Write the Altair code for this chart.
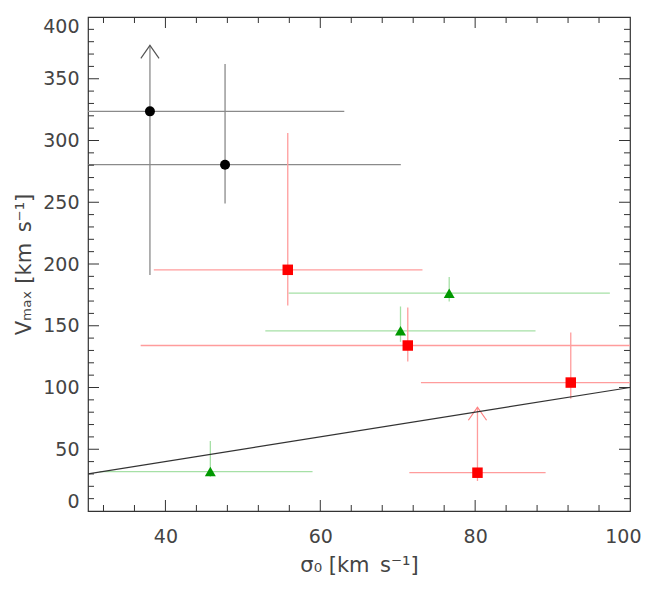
import altair as alt
import pandas as pd

# ---- data ----
groups = ["black", "black", "red", "red", "red", "red", "green", "green", "green"]
sigma = [38.0, 47.7, 55.8, 71.3, 92.35, 80.3, 76.65, 70.36, 45.8]
vmax = [323.6, 280.4, 195.3, 134.0, 104.0, 31.0, 176.4, 145.9, 31.9]
sigma_lo = [20.0, 20.0, 38.5, 36.8, 73.0, 71.5, 55.9, 52.9, 31.5]
sigma_hi = [63.1, 70.4, 73.2, 110.0, 110.0, 89.1, 97.4, 87.8, 59.0]
vmax_lo = [191.0, 249.0, 166.4, 121.0, 90.8, 24.3, 169.6, 137.0, 27.8]
vmax_hi = [377.0, 362.0, 306.0, 164.8, 144.5, 84.0, 189.4, 165.6, 56.7]
lower_limit = [True, False, False, False, False, True, False, False, False]

line_x = [30, 100]
line_y = [30, 100]

x_labels = [40, 60, 80, 100]
y_labels = [0, 50, 100, 150, 200, 250, 300, 350, 400]
x_major = [40, 60, 80]
x_minor = [32, 36, 44, 48, 52, 56, 64, 68, 72, 76, 84, 88, 92, 96]
y_major = [50, 100, 150, 200, 250, 300, 350]
y_minor = [v for v in range(10, 400, 10) if v % 50 != 0]

group_order = ["black", "red", "green"]
marker_colors = ["#000000", "#ff0000", "#009900"]
bar_colors = ["#8a8a8a", "#ff9c9c", "#a6e0a6"]
arrow_colors = ["#555555", "#ff7f7f", "#80c080"]
shapes = ["circle", "square", "triangle-up"]
marker_sizes = [100, 120, 150]

W, H = 542, 494
MAJ, MIN = 11, 6
TICK_COLOR = "#333333"

df = pd.DataFrame({
    "group": groups, "sigma": sigma, "vmax": vmax,
    "sigma_lo": sigma_lo, "sigma_hi": sigma_hi,
    "vmax_lo": vmax_lo, "vmax_hi": vmax_hi, "lower": lower_limit,
})
arrows = df[df["lower"]]

xs = alt.Scale(domain=[30, 100], nice=False, zero=False)
ys = alt.Scale(domain=[0, 400], nice=False, zero=False)

x_axis = alt.Axis(values=x_labels, title="σ₀ [km\u2002s⁻¹]", ticks=False, domain=False, grid=False,
                  labelFlush=True, labelFlushOffset=11, labelOverlap=False, labelPadding=16, titlePadding=8)
y_axis = alt.Axis(values=y_labels, title="Vₘₐₓ [km\u2002s⁻¹]", ticks=False, domain=False, grid=False,
                  labelFlush=True, labelOverlap=False, labelPadding=9, titlePadding=8)

mk_color = alt.Color("group:N", scale=alt.Scale(domain=group_order, range=marker_colors), legend=None)
bar_color = alt.Color("group:N", scale=alt.Scale(domain=group_order, range=bar_colors), legend=None)
ar_color = alt.Color("group:N", scale=alt.Scale(domain=group_order, range=arrow_colors), legend=None)

hbars = alt.Chart(df).mark_rule(clip=True, strokeWidth=1.3).encode(
    x=alt.X("sigma_lo:Q", scale=xs, axis=x_axis),
    x2="sigma_hi:Q",
    y=alt.Y("vmax:Q", scale=ys, axis=y_axis),
    color=bar_color,
)
vbars = alt.Chart(df).mark_rule(clip=True, strokeWidth=1.3).encode(
    x="sigma:Q", y="vmax_lo:Q", y2="vmax_hi:Q", color=bar_color,
)
bars = alt.layer(hbars, vbars)

arrow_heads = alt.Chart(arrows).mark_point(
    shape="M -0.7 1 L 0 0 L 0.7 1", filled=False, size=676, strokeWidth=1.2, opacity=1
).encode(
    x="sigma:Q", y="vmax_hi:Q", color=ar_color,
)
one_to_one = alt.Chart(pd.DataFrame({"lx": line_x, "ly": line_y})).mark_line(
    color="#333333", strokeWidth=1.2, clip=True
).encode(x="lx:Q", y="ly:Q")

points = alt.Chart(df).mark_point(filled=True, opacity=1).encode(
    x="sigma:Q", y="vmax:Q",
    color=mk_color,
    shape=alt.Shape("group:N", scale=alt.Scale(domain=group_order, range=shapes), legend=None),
    size=alt.Size("group:N", scale=alt.Scale(domain=group_order, range=marker_sizes), legend=None),
)

def yticks(vals, length):
    d = pd.DataFrame({"v": vals})
    left = alt.Chart(d).mark_rule(color=TICK_COLOR, strokeWidth=1).encode(
        y="v:Q", x=alt.value(0), x2=alt.value(length))
    right = alt.Chart(d).mark_rule(color=TICK_COLOR, strokeWidth=1).encode(
        y="v:Q", x=alt.value(W), x2=alt.value(W - length))
    return [left, right]

def xticks(vals, length):
    d = pd.DataFrame({"v": vals})
    bottom = alt.Chart(d).mark_rule(color=TICK_COLOR, strokeWidth=1).encode(
        x="v:Q", y=alt.value(H), y2=alt.value(H - length))
    top = alt.Chart(d).mark_rule(color=TICK_COLOR, strokeWidth=1).encode(
        x="v:Q", y=alt.value(0), y2=alt.value(length))
    return [bottom, top]

tick_layers = yticks(y_major, MAJ) + yticks(y_minor, MIN) + xticks(x_major, MAJ) + xticks(x_minor, MIN)

chart = alt.layer(
    bars, arrow_heads, one_to_one, points, *tick_layers
).resolve_scale(
    color="independent"
).properties(
    width=W, height=H,
    autosize=alt.AutoSizeParams(type="none"),
    padding={"left": 80, "top": 9, "right": 11, "bottom": 70},
).configure_view(
    stroke="#333333", strokeWidth=1.2
).configure_axis(
    labelFont="DejaVu Sans", labelFontSize=19, labelColor="#444444",
    titleFont="DejaVu Sans", titleFontSize=21, titleColor="#444444", titleFontWeight="normal",
)

chart.save("out.html", embed_options={"renderer": "svg", "actions": False})
